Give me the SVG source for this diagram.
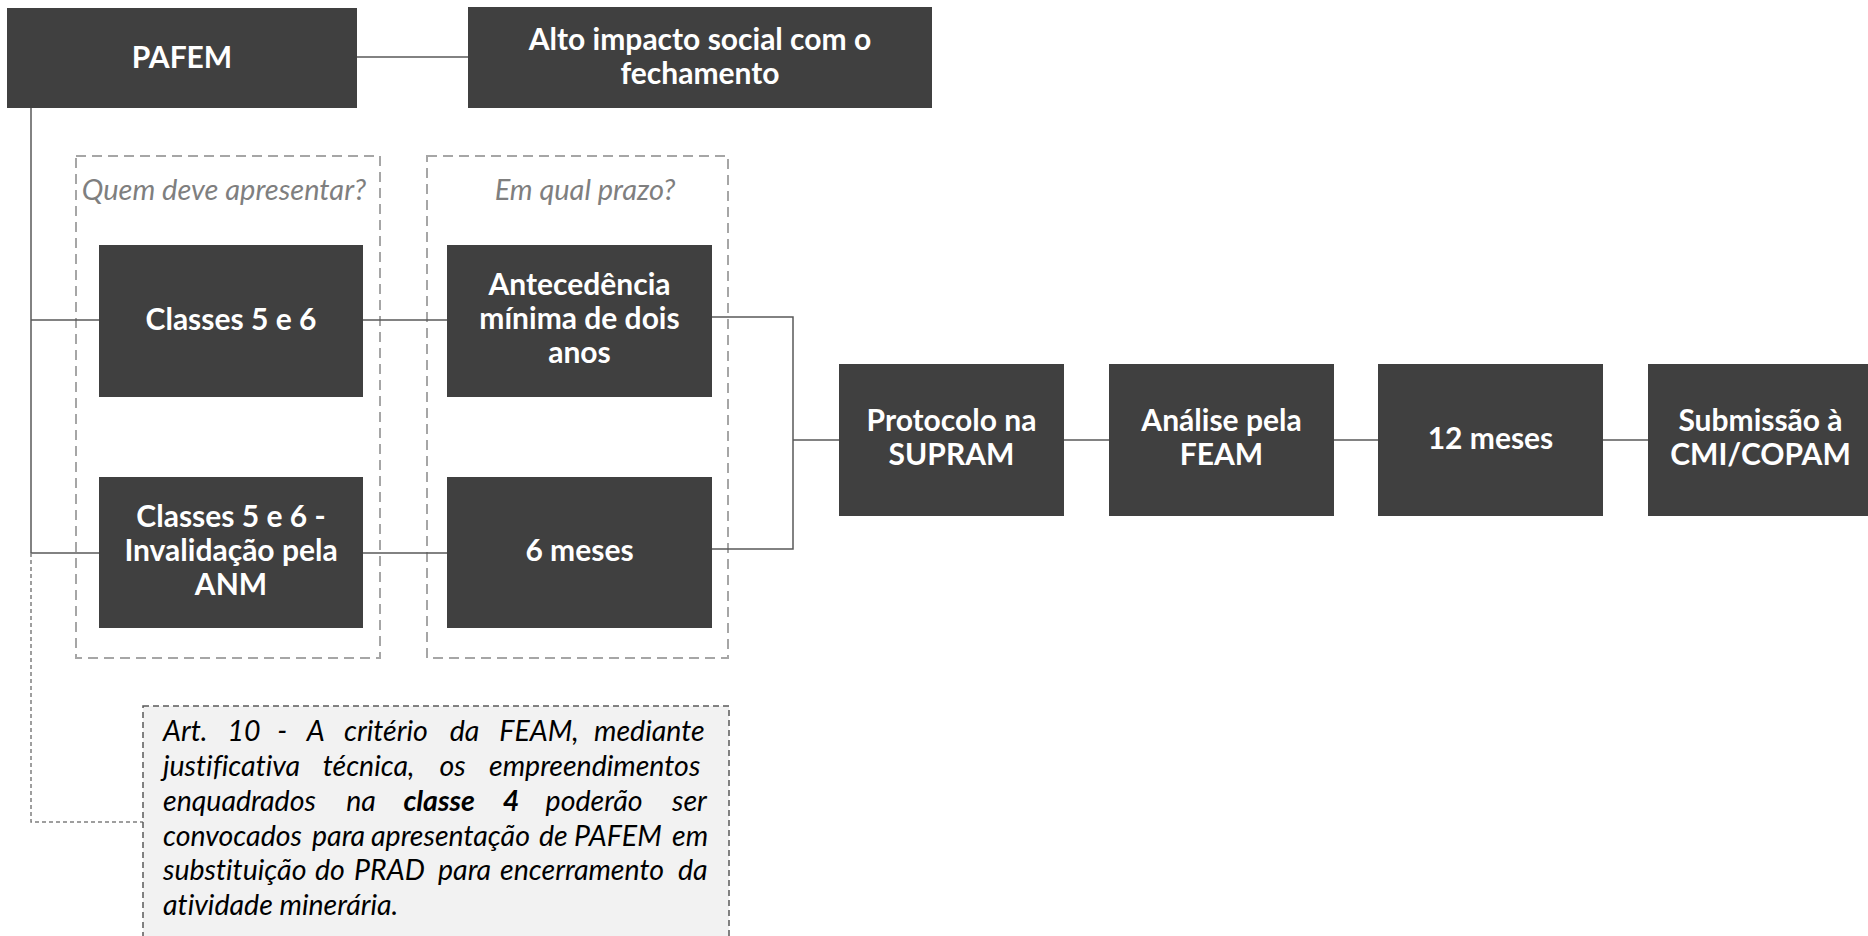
<svg xmlns="http://www.w3.org/2000/svg" width="1868" height="936" viewBox="0 0 1868 936">
<style>
.box{fill:#404040;}
.bt{font-family:Lato,"Open Sans","Liberation Sans",sans-serif;font-weight:700;font-size:30px;fill:#ffffff;text-anchor:middle;}
.frame{fill:none;stroke:#a6a6a6;stroke-width:2;stroke-dasharray:10 6;}
.hdr{font-family:Lato,"Open Sans","Liberation Sans",sans-serif;font-style:italic;font-size:29px;fill:#7f7f7f;text-anchor:middle;}
.con{fill:none;stroke:#595959;stroke-width:1.5;}
.dcon{fill:none;stroke:#7f7f7f;stroke-width:1.5;stroke-dasharray:4 3;}
.note{fill:#f2f2f2;stroke:#595959;stroke-width:1.5;stroke-dasharray:6 4;}
.nt{font-family:Lato,"Open Sans","Liberation Sans",sans-serif;font-style:italic;font-size:28.5px;fill:#000000;font-variant-ligatures:none;}
.b{font-weight:700;}
</style>
<rect width="1868" height="936" fill="#ffffff"/>

<g id="frames">
<rect class="frame" x="76" y="156" width="304" height="502"/>
<rect class="frame" x="427" y="156" width="301" height="502"/>
<text class="hdr" x="224" y="200">Quem deve apresentar?</text>
<text class="hdr" x="585" y="200">Em qual prazo?</text>
</g>

<g id="connectors">
<line class="con" x1="357" y1="57" x2="468" y2="57"/>
<line class="con" x1="31" y1="108" x2="31" y2="553"/>
<line class="con" x1="31" y1="320" x2="99" y2="320"/>
<line class="con" x1="31" y1="553" x2="99" y2="553"/>
<line class="con" x1="363" y1="320" x2="447" y2="320"/>
<line class="con" x1="363" y1="553" x2="447" y2="553"/>
<polyline class="con" points="712,317 793,317 793,549 712,549"/>
<line class="con" x1="793" y1="440" x2="839" y2="440"/>
<line class="con" x1="1064" y1="440" x2="1109" y2="440"/>
<line class="con" x1="1334" y1="440" x2="1378" y2="440"/>
<line class="con" x1="1603" y1="440" x2="1648" y2="440"/>
<polyline class="dcon" points="31,553 31,822 143,822"/>
</g>

<g id="pafem">
<rect class="box" x="7" y="8" width="350" height="100"/>
<text class="bt" x="182" y="68">PAFEM</text>
</g>

<g id="alto-impacto">
<rect class="box" x="468" y="7" width="464" height="101"/>
<text class="bt" x="700" y="50">Alto impacto social com o</text>
<text class="bt" x="700" y="84">fechamento</text>
</g>

<g id="classes-5-6">
<rect class="box" x="99" y="245" width="264" height="152"/>
<text class="bt" x="231" y="330">Classes 5 e 6</text>
</g>

<g id="antecedencia">
<rect class="box" x="447" y="245" width="265" height="152"/>
<text class="bt" x="579.5" y="295">Antecedência</text>
<text class="bt" x="579.5" y="329">mínima de dois</text>
<text class="bt" x="579.5" y="363">anos</text>
</g>

<g id="classes-invalidacao">
<rect class="box" x="99" y="477" width="264" height="151"/>
<text class="bt" x="231" y="527">Classes 5 e 6 -</text>
<text class="bt" x="231" y="561">Invalidação pela</text>
<text class="bt" x="231" y="595">ANM</text>
</g>

<g id="seis-meses">
<rect class="box" x="447" y="477" width="265" height="151"/>
<text class="bt" x="579.5" y="561">6 meses</text>
</g>

<g id="protocolo">
<rect class="box" x="839" y="364" width="225" height="152"/>
<text class="bt" x="951.5" y="431">Protocolo na</text>
<text class="bt" x="951.5" y="465">SUPRAM</text>
</g>

<g id="analise">
<rect class="box" x="1109" y="364" width="225" height="152"/>
<text class="bt" x="1221.5" y="431">Análise pela</text>
<text class="bt" x="1221.5" y="465">FEAM</text>
</g>

<g id="doze-meses">
<rect class="box" x="1378" y="364" width="225" height="152"/>
<text class="bt" x="1490.5" y="449">12 meses</text>
</g>

<g id="submissao">
<rect class="box" x="1648" y="364" width="225" height="152"/>
<text class="bt" x="1760.5" y="431">Submissão à</text>
<text class="bt" x="1760.5" y="465">CMI/COPAM</text>
</g>

<g id="nota">
<rect class="note" x="143" y="706" width="586" height="260"/>
<text class="nt" y="741"><tspan x="163">Art.</tspan><tspan x="227.4">10</tspan><tspan x="277.3">-</tspan><tspan x="306.7">A</tspan><tspan x="344">critério</tspan><tspan x="449.7">da</tspan><tspan x="499.3">FEAM,</tspan><tspan x="594">mediante</tspan></text>
<text class="nt" y="776"><tspan x="163">justificativa</tspan><tspan x="322.8">técnica,</tspan><tspan x="439.4">os</tspan><tspan x="489">empreendimentos</tspan></text>
<text class="nt" y="811"><tspan x="163">enquadrados</tspan><tspan x="346.2">na</tspan><tspan x="403.4" class="b">classe</tspan><tspan x="502.8" class="b">4</tspan><tspan x="545.6">poderão</tspan><tspan x="672">ser</tspan></text>
<text class="nt" y="846"><tspan x="163">convocados</tspan><tspan x="312">para</tspan><tspan x="371">apresentação</tspan><tspan x="539">de</tspan><tspan x="574">PAFEM</tspan><tspan x="672">em</tspan></text>
<text class="nt" y="880"><tspan x="163">substituição</tspan><tspan x="315">do</tspan><tspan x="354">PRAD</tspan><tspan x="438">para</tspan><tspan x="500.1">encerramento</tspan><tspan x="678">da</tspan></text>
<text class="nt" x="163" y="915">atividade minerária.</text>
</g>
</svg>
